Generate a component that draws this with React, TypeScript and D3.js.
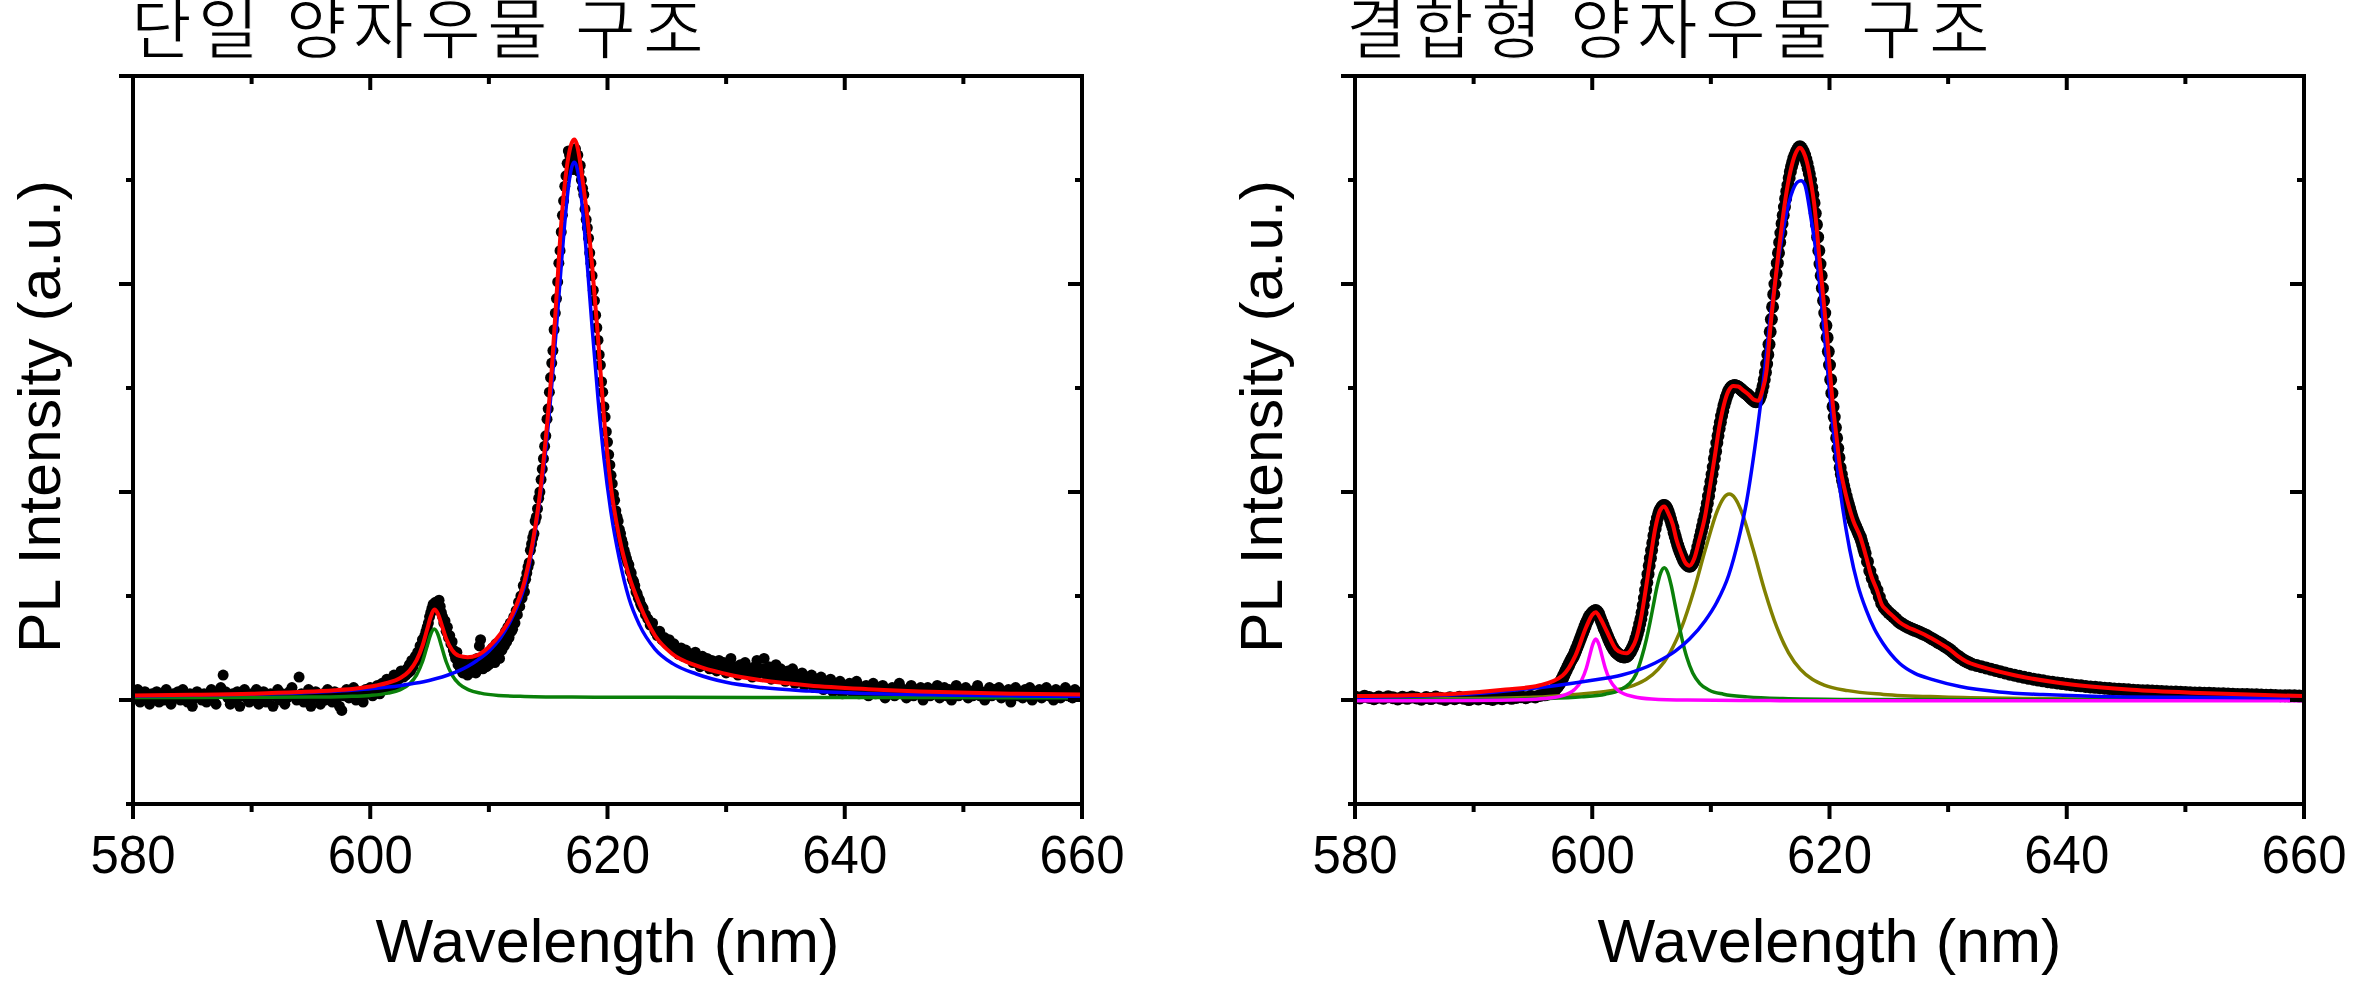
import React from "react";
import * as d3 from "d3";

const W = 2362;
const H = 987;

// ---------- axes / labels ----------
const waveDomain: [number, number] = [580, 660];
const intensityDomain: [number, number] = [-0.5, 3.0];
const xMajorTicks = [580, 600, 620, 640, 660];
const xMinorTicks = [590, 610, 630, 650];
const yMajorTicks = [0, 1, 2, 3];
const yMinorTicks = [-0.5, 0.5, 1.5, 2.5];
const panelTitles = ["단일 양자우물 구조", "결합형 양자우물 구조"];
const xAxisTitle = "Wavelength (nm)";
const yAxisTitle = "PL Intensity (a.u.)";

type Seg = { start: number; step: number; values: number[] };
type Pt = [number, number];

// ---------- left panel : single QW (measured points) ----------
const leftDots: Seg[] = [
  { start: 580, step: 0.2, values: [
    0.03, 0.01, 0.05, -0.01, 0.02, 0.04, 0.0, -0.02, 0.03, 0.01,
    0.04, -0.01, 0.02, 0.0, 0.05, 0.02, -0.02, 0.03, 0.01, 0.04,
    0.0, 0.05, 0.02, -0.01, 0.03, -0.03, 0.01, 0.04, 0.02, 0.0,
    0.03, -0.01, 0.02, 0.05, 0.01, -0.02, 0.03, 0.06, 0.12, 0.04,
    0.01, -0.02, 0.03, 0.0, 0.04, -0.03, 0.02, 0.05, 0.01, -0.01,
    0.03, 0.0, 0.05, -0.02, 0.02, 0.04, -0.01, 0.01, 0.03, -0.03,
    0.02, 0.05, 0.0, 0.03, -0.02, 0.01, 0.04, 0.06, 0.02, 0.0,
    0.11, 0.03, -0.01, 0.02, 0.05, -0.03, 0.01, 0.04, 0.02, -0.02,
    0.03, 0.0, 0.05, 0.02, -0.01, 0.04, 0.01, -0.03, -0.05, 0.02,
    0.05, 0.01, 0.03, 0.06, 0.0, 0.04, 0.02, -0.01, 0.05, 0.03,
    0.06, 0.02, 0.04, 0.07, 0.03, 0.08, 0.05, 0.1, 0.06, 0.09,
    0.12, 0.07, 0.1, 0.14, 0.11] },
  { start: 603, step: 0.1, values: [
    0.12, 0.15, 0.13, 0.17, 0.14, 0.19, 0.16, 0.18, 0.21, 0.19,
    0.23, 0.21, 0.26, 0.24, 0.29, 0.27, 0.31, 0.33, 0.35, 0.37,
    0.4, 0.42, 0.44, 0.46, 0.45, 0.47, 0.44, 0.46, 0.48, 0.45,
    0.42, 0.4, 0.37, 0.38, 0.33, 0.35, 0.3, 0.31, 0.27, 0.28,
    0.24, 0.22, 0.2, 0.23, 0.17, 0.19, 0.15, 0.17, 0.13, 0.16,
    0.14, 0.18, 0.12, 0.16, 0.13, 0.15, 0.19, 0.14, 0.17, 0.13,
    0.2, 0.16, 0.26, 0.29, 0.19, 0.15, 0.18, 0.22, 0.16, 0.2,
    0.17, 0.23, 0.19, 0.25, 0.21, 0.18, 0.27, 0.22, 0.25, 0.2,
    0.28, 0.24, 0.3, 0.26, 0.33, 0.28, 0.35, 0.3, 0.37, 0.33] },
  { start: 612, step: 0.1, values: [
    0.34, 0.4, 0.37, 0.43, 0.41, 0.47, 0.45, 0.5, 0.49, 0.55,
    0.52, 0.58, 0.61, 0.64, 0.66, 0.72, 0.75, 0.78, 0.8, 0.86,
    0.88, 0.92, 0.97, 1.0, 1.06, 1.11, 1.16, 1.22, 1.27, 1.35,
    1.4, 1.48, 1.55, 1.62, 1.68, 1.78, 1.86, 1.93, 2.01, 2.1,
    2.16, 2.25, 2.33, 2.4, 2.47, 2.52, 2.58, 2.64, 2.62, 2.57,
    2.63, 2.55, 2.6, 2.65, 2.58, 2.62, 2.54, 2.57, 2.5, 2.46,
    2.43, 2.36, 2.31, 2.27, 2.22, 2.15, 2.1, 2.04, 1.97, 1.92,
    1.85, 1.79, 1.73, 1.66, 1.61, 1.53, 1.48, 1.41, 1.36, 1.29,
    1.24, 1.18, 1.13, 1.08, 1.04, 0.99, 0.96, 0.91, 0.88, 0.86,
    0.82, 0.8, 0.77, 0.75, 0.72, 0.7, 0.68, 0.66, 0.65, 0.62,
    0.61, 0.58, 0.57, 0.55, 0.52, 0.51, 0.49, 0.48, 0.46, 0.45] },
  { start: 623, step: 0.2, values: [
    0.44, 0.41, 0.39, 0.36, 0.37, 0.33, 0.31, 0.33, 0.29, 0.3,
    0.27, 0.29, 0.25, 0.27, 0.24, 0.22, 0.25, 0.21, 0.24, 0.2,
    0.22, 0.18, 0.23, 0.19, 0.16, 0.21, 0.18, 0.2, 0.15, 0.19,
    0.17, 0.14, 0.19, 0.15, 0.18, 0.13, 0.17, 0.2, 0.14, 0.16,
    0.12, 0.17, 0.14, 0.18, 0.13, 0.15, 0.11, 0.16, 0.19, 0.13,
    0.15, 0.2, 0.12, 0.16, 0.1, 0.14, 0.17, 0.11, 0.15, 0.12,
    0.09, 0.14, 0.11, 0.15, 0.08, 0.12, 0.1, 0.13, 0.07, 0.11,
    0.09, 0.12, 0.06, 0.1, 0.08, 0.11, 0.05, 0.09, 0.07, 0.1,
    0.04, 0.08, 0.06, 0.09, 0.03, 0.07, 0.05, 0.08, 0.04, 0.06,
    0.09, 0.03, 0.06, 0.04, 0.07, 0.02, 0.05, 0.08, 0.03, 0.06,
    0.04, 0.07, 0.01, 0.05, 0.03, 0.06, 0.02, 0.05, 0.08, 0.03,
    0.05, 0.01, 0.04, 0.07, 0.02, 0.05, 0.03, 0.06, 0.0, 0.04,
    0.06, 0.02, 0.05, 0.03, 0.07, 0.01, 0.04, 0.06, 0.02, 0.05,
    0.0, 0.04, 0.07, 0.02, 0.05, 0.03, 0.06, 0.01, 0.04, 0.02,
    0.05, 0.07, 0.02, 0.04, 0.0, 0.03, 0.06, 0.02, 0.05, 0.03,
    0.06, 0.01, 0.04, 0.02, 0.05, -0.01, 0.03, 0.06, 0.02, 0.04,
    0.01, 0.05, 0.03, 0.06, 0.0, 0.04, 0.02, 0.05, 0.01, 0.03,
    0.06, 0.02, 0.04, 0.0, 0.05, 0.03, 0.01, 0.04, 0.06, 0.02,
    0.04, 0.01, 0.05, 0.03, 0.02, 0.04] },
];

// left fitted curves
const leftFitSum: Pt[] = [
  [580, 0.022], [585, 0.025], [590, 0.03], [594, 0.038], [597, 0.047], [599, 0.057],
  [600.5, 0.07], [601.5, 0.083], [602.5, 0.105], [603.3, 0.14], [603.9, 0.19], [604.4, 0.26],
  [604.8, 0.34], [605.1, 0.4], [605.4, 0.435], [605.7, 0.415], [606, 0.365], [606.4, 0.295],
  [606.9, 0.24], [607.5, 0.212], [608.2, 0.206], [609, 0.215], [610, 0.255], [611, 0.32],
  [612, 0.415], [613, 0.57], [613.7, 0.76], [614.3, 0.99], [614.8, 1.26], [615.3, 1.59],
  [615.7, 1.94], [616.1, 2.29], [616.5, 2.53], [616.8, 2.64], [617, 2.68], [617.2, 2.695],
  [617.4, 2.675], [617.6, 2.62], [617.9, 2.5], [618.3, 2.32], [618.7, 2.09], [619.2, 1.74],
  [619.7, 1.36], [620.3, 1.02], [621, 0.78], [621.8, 0.6], [622.7, 0.46], [624, 0.31],
  [625.5, 0.22], [627.5, 0.165], [630, 0.125], [633, 0.095], [637, 0.07], [642, 0.052],
  [648, 0.038], [654, 0.03], [660, 0.026],
];
const leftPeakMain: Pt[] = [
  [580, 0.019], [585, 0.023], [590, 0.028], [594, 0.034], [597, 0.042], [599, 0.049],
  [600.5, 0.056], [601.5, 0.062], [602.5, 0.069], [603.5, 0.078], [604.5, 0.088], [605.5, 0.102],
  [606.5, 0.119], [607.5, 0.141], [608.2, 0.161], [609, 0.19], [610, 0.235], [611, 0.3],
  [612, 0.4], [613, 0.545], [613.7, 0.74], [614.3, 0.965], [614.8, 1.205], [615.3, 1.513],
  [615.7, 1.793], [616.1, 2.088], [616.5, 2.358], [616.8, 2.506], [617, 2.565], [617.2, 2.585],
  [617.4, 2.565], [617.6, 2.506], [617.9, 2.358], [618.3, 2.088], [618.7, 1.793], [619.2, 1.449],
  [619.7, 1.162], [620.3, 0.899], [621, 0.678], [621.8, 0.49], [622.7, 0.36], [624, 0.245],
  [625.5, 0.175], [627.5, 0.125], [630, 0.085], [633, 0.06], [637, 0.043], [642, 0.031],
  [648, 0.024], [654, 0.02], [660, 0.017],
];
const leftPeakSide: Pt[] = [
  [580, 0.012], [590, 0.013], [595, 0.014], [598, 0.017], [600, 0.022], [601.5, 0.033],
  [602.5, 0.049], [603.3, 0.077], [603.9, 0.12], [604.4, 0.184], [604.8, 0.26], [605.1, 0.316],
  [605.4, 0.341], [605.7, 0.316], [606, 0.26], [606.4, 0.184], [606.9, 0.12], [607.5, 0.077],
  [608.3, 0.049], [609.3, 0.033], [610.8, 0.022], [613, 0.017], [617, 0.014], [625, 0.013],
  [640, 0.012], [660, 0.011],
];

// ---------- right panel : coupled QW (measured points) ----------
const rightDots: Seg[] = [
  { start: 580, step: 0.4, values: [
    0.015, 0.01, 0.018, 0.012, 0.006, 0.014, 0.009, 0.016, 0.011, 0.005,
    0.013, 0.008, 0.015, 0.01, 0.004, 0.012, 0.007, 0.014, 0.009, 0.003,
    0.011, 0.006, 0.013, 0.008, 0.002, 0.01, 0.005, 0.012, 0.007, 0.003,
    0.01, 0.006, 0.013, 0.008, 0.012, 0.016, 0.011, 0.018, 0.015, 0.022] },
  { start: 596, step: 0.1, values: [
    0.025, 0.03, 0.028, 0.035, 0.032, 0.04, 0.038, 0.045, 0.05, 0.055,
    0.06, 0.068, 0.075, 0.085, 0.095, 0.105, 0.118, 0.13, 0.142, 0.155,
    0.165, 0.178, 0.19, 0.2, 0.21, 0.222, 0.235, 0.25, 0.265, 0.28,
    0.295, 0.31, 0.325, 0.34, 0.355, 0.37, 0.382, 0.395, 0.405, 0.412,
    0.418, 0.424, 0.428, 0.43, 0.426, 0.418, 0.405, 0.39, 0.375, 0.36,
    0.345, 0.332, 0.318, 0.305, 0.29, 0.278, 0.265, 0.255, 0.245, 0.238,
    0.23, 0.225, 0.22, 0.216, 0.212, 0.21, 0.208, 0.207, 0.208, 0.21,
    0.215, 0.222, 0.23, 0.24, 0.252, 0.265, 0.28, 0.298, 0.318, 0.34,
    0.365, 0.39, 0.42, 0.455, 0.49, 0.528, 0.565, 0.605, 0.645, 0.682,
    0.72, 0.755, 0.79, 0.822, 0.85, 0.875, 0.895, 0.91, 0.922, 0.93,
    0.935, 0.935, 0.93, 0.92, 0.905, 0.888, 0.868, 0.848, 0.83, 0.805,
    0.785, 0.765, 0.745, 0.728, 0.712, 0.698, 0.685, 0.672, 0.662, 0.655,
    0.65, 0.645, 0.643, 0.645, 0.652, 0.662, 0.675, 0.69, 0.71, 0.735,
    0.76, 0.785, 0.81, 0.835, 0.86, 0.885, 0.915, 0.945, 0.98, 1.015,
    1.05, 1.085, 1.12, 1.16, 1.195, 1.235, 1.27, 1.305, 1.335, 1.365,
    1.39, 1.415, 1.435, 1.455, 1.47, 1.485, 1.495, 1.503, 1.508, 1.51,
    1.512, 1.51, 1.508, 1.505, 1.5, 1.496, 1.49, 1.486, 1.48, 1.476,
    1.472, 1.468, 1.462, 1.456, 1.45, 1.445, 1.44, 1.436, 1.434, 1.436,
    1.44, 1.45, 1.465, 1.485, 1.51, 1.54, 1.575, 1.615, 1.66, 1.71,
    1.77, 1.83, 1.89, 1.95, 2.0, 2.05, 2.1, 2.15, 2.2, 2.245,
    2.29, 2.33, 2.37, 2.41, 2.445, 2.475, 2.51, 2.54, 2.565, 2.585,
    2.605, 2.62, 2.635, 2.645, 2.655, 2.66, 2.655, 2.645, 2.635, 2.62,
    2.6, 2.58, 2.555, 2.53, 2.5, 2.465, 2.43, 2.39, 2.34, 2.285,
    2.225, 2.16, 2.096, 2.04, 1.98, 1.92, 1.86, 1.8, 1.742, 1.675,
    1.61, 1.54, 1.475, 1.41, 1.36, 1.31, 1.26, 1.21, 1.165, 1.117,
    1.085, 1.055, 1.03, 1.005, 0.98, 0.959, 0.94, 0.92, 0.9, 0.88,
    0.862, 0.848, 0.835, 0.822, 0.808, 0.795, 0.783, 0.765, 0.745, 0.725] },
  { start: 623, step: 0.2, values: [
    0.705, 0.665, 0.62, 0.585, 0.555, 0.528, 0.495, 0.465, 0.445, 0.432,
    0.42, 0.41, 0.4, 0.39, 0.378, 0.37, 0.363, 0.356, 0.35, 0.345,
    0.34, 0.335, 0.331, 0.326, 0.32, 0.315, 0.31, 0.303, 0.296, 0.29,
    0.283, 0.276, 0.27, 0.262, 0.255, 0.248, 0.24, 0.23, 0.22, 0.212,
    0.204, 0.196, 0.189, 0.183, 0.178] },
  { start: 632, step: 0.4, values: [
    0.172, 0.166, 0.16, 0.154, 0.148, 0.142, 0.136, 0.13, 0.124, 0.119,
    0.114, 0.109, 0.104, 0.1, 0.096, 0.092, 0.088, 0.085, 0.082, 0.079,
    0.076, 0.073, 0.07, 0.068, 0.065, 0.063, 0.061, 0.059, 0.057, 0.055,
    0.053, 0.052, 0.05, 0.049, 0.047, 0.046, 0.045, 0.044, 0.043, 0.042,
    0.041, 0.04, 0.039, 0.038, 0.037, 0.036, 0.035, 0.034, 0.034, 0.033,
    0.032, 0.031, 0.03, 0.03, 0.029, 0.028, 0.027, 0.027, 0.026, 0.025,
    0.025, 0.024, 0.023, 0.023, 0.022, 0.021, 0.021, 0.02, 0.02, 0.019,
    0.019] },
];

// right fitted curves
const rightFitSum: Pt[] = [
  [580, 0.019], [584, 0.022], [588.5, 0.03], [592.7, 0.05], [595.5, 0.07], [597.5, 0.118],
  [598.6, 0.216], [599.5, 0.352], [600, 0.41], [600.3, 0.422], [600.7, 0.39], [601.2, 0.333],
  [602, 0.245], [602.5, 0.228], [602.9, 0.225], [603.3, 0.245], [603.7, 0.293], [604.1, 0.39],
  [604.5, 0.528], [604.9, 0.68], [605.3, 0.822], [605.7, 0.91], [606.07, 0.93], [606.4, 0.9],
  [606.8, 0.842], [607.1, 0.77], [607.5, 0.705], [607.85, 0.66], [608.2, 0.646], [608.6, 0.68],
  [609, 0.764], [609.5, 0.88], [609.9, 1.018], [610.3, 1.16], [610.7, 1.31], [611.1, 1.42],
  [611.5, 1.488], [611.9, 1.51], [612.3, 1.507], [612.7, 1.49], [613.2, 1.468], [613.6, 1.445],
  [614, 1.439], [614.3, 1.48], [614.7, 1.587], [615, 1.78], [615.4, 2.0], [615.7, 2.15],
  [616, 2.29], [616.4, 2.45], [616.8, 2.565], [617.2, 2.635], [617.5, 2.655], [617.8, 2.635],
  [618.1, 2.585], [618.4, 2.5], [618.7, 2.39], [619.2, 2.096], [619.5, 1.92], [619.8, 1.742],
  [620.3, 1.41], [620.6, 1.26], [620.9, 1.117], [621.2, 1.03], [621.5, 0.959], [622, 0.862],
  [622.6, 0.783], [623.1, 0.686], [623.5, 0.6], [624, 0.528], [624.4, 0.46], [624.8, 0.432],
  [625.4, 0.4], [625.9, 0.374], [626.6, 0.35], [627.3, 0.333], [628, 0.315], [628.7, 0.293],
  [629.4, 0.27], [630.1, 0.245], [630.8, 0.212], [631.5, 0.186], [632.9, 0.158], [635.7, 0.118],
  [639.9, 0.078], [645.5, 0.049], [651.2, 0.034], [656, 0.025], [660, 0.019],
];
const rightPeakMagenta: Pt[] = [
  [580, -0.0035], [590, -0.002], [594, 0.001], [596, 0.007], [597.5, 0.021], [598.5, 0.05],
  [599.1, 0.095], [599.5, 0.153], [599.8, 0.217], [600.05, 0.269], [600.3, 0.293], [600.55, 0.269],
  [600.8, 0.217], [601.1, 0.153], [601.5, 0.095], [602, 0.055], [602.7, 0.029], [603.5, 0.016],
  [605, 0.005], [608, -0.0004], [615, -0.003], [630, -0.0037], [660, -0.004],
];
const rightPeakGreen: Pt[] = [
  [580, 0.001], [586, 0.002], [591, 0.003], [596, 0.007], [599.1, 0.015], [601.1, 0.028],
  [602.3, 0.047], [603.1, 0.077], [603.7, 0.125], [604.17, 0.205], [604.57, 0.293], [604.87, 0.373],
  [605.17, 0.461], [605.47, 0.547], [605.77, 0.611], [606.07, 0.636], [606.37, 0.611], [606.67, 0.547],
  [606.97, 0.461], [607.27, 0.373], [607.57, 0.293], [607.97, 0.205], [608.47, 0.13], [609.07, 0.079],
  [609.87, 0.047], [611.07, 0.028], [613.07, 0.015], [616.07, 0.007], [621, 0.003], [632, 0.001],
  [660, 0.0],
];
const rightPeakOlive: Pt[] = [
  [580, 0.003], [590, 0.007], [595, 0.013], [598.55, 0.027], [601.55, 0.045], [603.55, 0.072],
  [604.55, 0.0995], [605.55, 0.147], [606.55, 0.227], [607.55, 0.351], [608.55, 0.523], [609.55, 0.727],
  [610.55, 0.911], [611.05, 0.969], [611.55, 0.99], [612.05, 0.969], [612.55, 0.911], [613.55, 0.727],
  [614.55, 0.523], [615.55, 0.351], [616.55, 0.227], [617.55, 0.147], [618.55, 0.0995], [619.55, 0.072],
  [621.55, 0.045], [624.55, 0.027], [629.55, 0.0147], [636.55, 0.0077], [645, 0.004], [660, 0.002],
];
const rightPeakBlue: Pt[] = [
  [580, 0.012], [586, 0.02], [590, 0.03], [594, 0.05], [597, 0.07], [600, 0.095],
  [602.5, 0.12], [605.3, 0.178], [607, 0.235], [608.2, 0.293], [609.5, 0.38], [610.5, 0.47],
  [611.5, 0.6], [612.3, 0.764], [613, 0.95], [613.7, 1.21], [614.4, 1.52], [615.1, 1.88],
  [615.7, 2.12], [616.3, 2.32], [616.9, 2.45], [617.3, 2.49], [617.6, 2.496], [617.9, 2.48],
  [618.4, 2.33], [618.8, 2.18], [619.2, 1.98], [619.8, 1.61], [620.3, 1.31], [620.9, 1.01],
  [621.7, 0.724], [622.4, 0.55], [623.1, 0.432], [623.8, 0.34], [624.5, 0.273], [625.9, 0.177],
  [627.2, 0.128], [628.7, 0.098], [631, 0.065], [634.3, 0.039], [638, 0.026], [642.8, 0.017],
  [650, 0.013], [660, 0.01],
];

// ---------- styling / layout ----------
const FONT = "'Liberation Sans', Arial, Helvetica, sans-serif";
const KFONT = "KTitle, 'Noto Sans CJK KR', 'Noto Sans CJK SC', sans-serif";
const FONT_FACE_CSS =
  "@font-face{font-family:'KTitle';src:local('Noto Sans CJK KR'),local('Noto Sans CJK KR Regular'),local('NotoSansCJKkr-Regular');ascent-override:76%;descent-override:10%;line-gap-override:0%;}";
const PLOT_TOP = 76;
const PLOT_BOTTOM = 804;
const panelsLayout = [
  { left: 133, right: 1082, titleX: 130.5, titleLen: 573, yTitleX: 60, dotR: 5.5 },
  { left: 1355, right: 2304, titleX: 1345.5, titleLen: 644, yTitleX: 1282, dotR: 6.5 },
];

type Curve = { data: Pt[]; color: string; width: number };

function Panel({ idx, dots, curves }: { idx: number; dots: Seg[]; curves: Curve[] }) {
  const p = panelsLayout[idx];
  const x = d3.scaleLinear().domain(waveDomain).range([p.left, p.right]);
  const y = d3.scaleLinear().domain(intensityDomain).range([PLOT_BOTTOM, PLOT_TOP]);
  const line = d3
    .line<Pt>()
    .x((d) => x(d[0]))
    .y((d) => y(d[1]))
    .curve(d3.curveMonotoneX);
  const pts: Pt[] = dots.flatMap((s) => s.values.map((v, i) => [s.start + i * s.step, v] as Pt));
  const clipId = `clip-${idx}`;
  const cx = (p.left + p.right) / 2;
  return (
    <g>
      <defs>
        <clipPath id={clipId}>
          <rect x={p.left} y={PLOT_TOP} width={p.right - p.left} height={PLOT_BOTTOM - PLOT_TOP} />
        </clipPath>
      </defs>
      <text
        x={p.titleX}
        y={52.5}
        fontFamily={KFONT}
        fontSize={66}
        textLength={p.titleLen}
        lengthAdjust="spacing"
        fill="#000"
        stroke="#fff"
        strokeWidth={1.1}
      >
        {panelTitles[idx]}
      </text>
      <g clipPath={`url(#${clipId})`}>
        {pts.map((d, i) => (
          <circle key={i} cx={x(d[0])} cy={y(d[1])} r={p.dotR} fill="#000" />
        ))}
        {curves.map((c, i) => (
          <path key={i} d={line(c.data) || ""} fill="none" stroke={c.color} strokeWidth={c.width} strokeLinejoin="round" />
        ))}
      </g>
      <rect
        x={p.left}
        y={PLOT_TOP}
        width={p.right - p.left}
        height={PLOT_BOTTOM - PLOT_TOP}
        fill="none"
        stroke="#000"
        strokeWidth={4}
      />
      {xMajorTicks.map((t) => (
        <g key={`xM${t}`}>
          <line x1={x(t)} x2={x(t)} y1={PLOT_BOTTOM} y2={PLOT_BOTTOM + 15} stroke="#000" strokeWidth={4} />
          <line x1={x(t)} x2={x(t)} y1={PLOT_TOP} y2={PLOT_TOP + 14} stroke="#000" strokeWidth={4} />
          <text
            x={x(t)}
            y={873}
            textAnchor="middle"
            fontFamily={FONT}
            fontSize={54}
            textLength={85}
            lengthAdjust="spacingAndGlyphs"
            fill="#000"
          >
            {t}
          </text>
        </g>
      ))}
      {xMinorTicks.map((t) => (
        <g key={`xm${t}`}>
          <line x1={x(t)} x2={x(t)} y1={PLOT_BOTTOM} y2={PLOT_BOTTOM + 8} stroke="#000" strokeWidth={4} />
          <line x1={x(t)} x2={x(t)} y1={PLOT_TOP} y2={PLOT_TOP + 8} stroke="#000" strokeWidth={4} />
        </g>
      ))}
      {yMajorTicks.map((t) => (
        <g key={`yM${t}`}>
          <line x1={p.left} x2={p.left - 14} y1={y(t)} y2={y(t)} stroke="#000" strokeWidth={4} />
          <line x1={p.right} x2={p.right - 14} y1={y(t)} y2={y(t)} stroke="#000" strokeWidth={4} />
        </g>
      ))}
      {yMinorTicks.map((t) => (
        <g key={`ym${t}`}>
          <line x1={p.left} x2={p.left - 7} y1={y(t)} y2={y(t)} stroke="#000" strokeWidth={4} />
          <line x1={p.right} x2={p.right - 7} y1={y(t)} y2={y(t)} stroke="#000" strokeWidth={4} />
        </g>
      ))}
      <text
        x={cx}
        y={962}
        textAnchor="middle"
        fontFamily={FONT}
        fontSize={62}
        textLength={464}
        lengthAdjust="spacingAndGlyphs"
        fill="#000"
      >
        {xAxisTitle}
      </text>
      <text
        transform={`translate(${p.yTitleX},416.5) rotate(-90)`}
        x={0}
        y={0}
        textAnchor="middle"
        fontFamily={FONT}
        fontSize={60}
        textLength={473}
        lengthAdjust="spacingAndGlyphs"
        fill="#000"
      >
        {yAxisTitle}
      </text>
    </g>
  );
}

export default function App() {
  const leftCurves: Curve[] = [
    { data: leftPeakSide, color: "#0a800a", width: 3.5 },
    { data: leftPeakMain, color: "#0000ff", width: 3.5 },
    { data: leftFitSum, color: "#ff0000", width: 4 },
  ];
  const rightCurves: Curve[] = [
    { data: rightPeakOlive, color: "#808000", width: 3.5 },
    { data: rightPeakGreen, color: "#0a800a", width: 3.5 },
    { data: rightPeakMagenta, color: "#ff00ff", width: 3.5 },
    { data: rightPeakBlue, color: "#0000ff", width: 3.5 },
    { data: rightFitSum, color: "#ff0000", width: 4 },
  ];
  return (
    <svg
      width={W}
      height={H}
      viewBox={`0 0 ${W} ${H}`}
      style={{ position: "absolute", left: 0, top: 0, display: "block", background: "#fff" }}
    >
      <style>{FONT_FACE_CSS}</style>
      <rect x={0} y={0} width={W} height={H} fill="#fff" />
      <Panel idx={0} dots={leftDots} curves={leftCurves} />
      <Panel idx={1} dots={rightDots} curves={rightCurves} />
    </svg>
  );
}
